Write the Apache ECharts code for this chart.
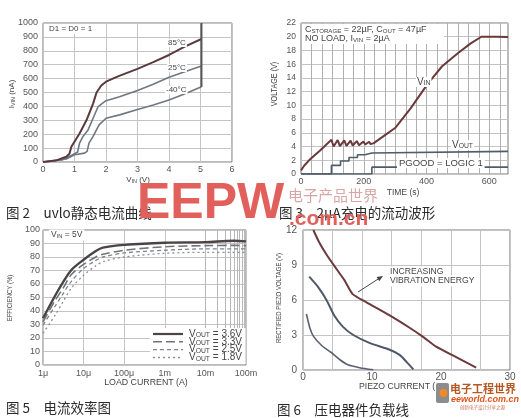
<!DOCTYPE html>
<html><head><meta charset="utf-8">
<script src="https://cdn.jsdelivr.net/npm/echarts@6/dist/echarts.min.js"></script>
<style>html,body{margin:0;padding:0;background:#fff}#c{width:521px;height:418px}</style>
</head><body><div id="c"></div>
<script>
// ---------- Fig 2 : UVLO quiescent current (V, nA) ----------
const uvlo85 = [[0,0],[0.4,10],[0.74,38],[0.84,60],[0.9,110],[1.16,205],[1.38,300],[1.59,420],[1.7,500],[1.85,550],[2.0,578],[2.4,618],[3.0,670],[3.5,718],[4.0,770],[4.5,830],[5.03,885]];
const uvlo25 = [[0,0],[0.63,17],[0.93,50],[1.1,72],[1.16,136],[1.27,184],[1.43,231],[1.59,315],[1.75,399],[2.0,441],[2.43,470],[3.0,515],[3.5,560],[4.0,610],[4.5,650],[5.03,690]];
const uvloM40 = [[0,0],[0.74,21],[1.0,52],[1.32,64],[1.4,76],[1.46,136],[1.59,184],[1.78,267],[2.0,315],[2.43,339],[3.0,378],[3.5,410],[4.0,446],[4.55,494],[5.03,542]];
const uvloEdge = [[5.03,540],[5.03,1000]];
// ---------- Fig 3 : 2uA charging waveform (s, V) ----------
const vin = [[0,0.5],[10,1.2],[30,2.2],[60,3.4],[97,5.0],[104,4.0],[117,4.95],[124,4.05],[138,4.9],[145,4.1],[158,4.85],[165,4.15],[178,4.8],[185,4.2],[199,4.75],[205,4.3],[217,4.7],[222,4.35],[232,4.5],[260,5.4],[300,6.7],[350,9.6],[405,13.2],[450,15.7],[500,17.6],[540,19.0],[575,20.0],[620,20.0],[660,19.95]];
const vout = [[0,0],[97,0],[97,1.25],[126,1.25],[126,1.9],[153,1.9],[153,2.4],[180,2.4],[180,2.8],[204,2.8],[204,3.05],[226,3.05],[226,3.3],[660,3.3]];
const pgood = [[0,0],[226,0],[226,1.0],[660,1.0]];
const timeTicks = [0,200,400,600];
// ---------- Fig 5 : efficiency (A, %) ----------
const effX  = [1e-6,2e-6,3e-6,5e-6,1e-5,2e-5,3e-5,1e-4,1e-3,1e-2,5e-2,1e-1];
const eff36 = [34.6,51.5,60.5,70.4,78,84.5,87,89,90.6,91,92,91.6];
const eff33 = [32,48,56,67,74.5,80,82,85,87.6,88.4,88.6,88.4];
const eff25 = [29.6,43.7,52,62,71.5,77.5,80,83,85,86,86,86];
const eff18 = [23.5,37,46,57,66.5,73.5,76.5,80,82.7,83.5,83.5,83.5];
const effTickLabels = ['1μ','10μ','100μ','1m','10m','100m'];
// ---------- Fig 6 : piezo load lines (uA, V) ----------
const piezoHigh = [[1.5,12],[2.3,11],[3.4,9.9],[4.8,8.7],[6.0,7.7],[7.2,6.5],[9.2,5.8],[12.5,4.7],[15.5,3.6],[17.5,2.8],[19.3,2.0],[22.2,1.1],[25.1,0.2]];
const piezoMid  = [[0.9,8.0],[2.2,7.1],[3.4,6.0],[4.6,4.6],[5.8,3.7],[7.3,3.0],[9.7,2.3],[12.3,1.8],[14.0,1.3],[15.0,0.7],[16.0,0.05]];
const piezoLow  = [[0.5,4.8],[1.0,3.6],[1.5,2.9],[2.7,2.1],[4.1,1.5],[5.3,0.9],[6.5,0.45],[8.2,0.2],[10.2,0.02]];

const FONT = '"Liberation Sans", Arial, sans-serif';
const CJK = '"Noto Sans CJK SC", sans-serif';
const GRIDC = '#c4c4c4', LABC = '#555', TXT = '#444';

function lab(size, margin, extra) {
  return Object.assign({color: LABC, fontSize: size, fontFamily: FONT, margin: margin}, extra || {});
}
function ax(o) {
  return Object.assign({type: 'value', axisLine: {show: false}, axisTick: {show: false},
    splitLine: {show: true, lineStyle: {color: GRIDC, width: 1}}}, o);
}
function line(name, data, xi, yi, color, width, extra) {
  return Object.assign({name, type: 'line', data, xAxisIndex: xi, yAxisIndex: yi, symbol: 'none',
    lineStyle: {color, width}, z: 5, silent: true}, extra || {});
}
function sub(size) {
  return {
    v: {fontSize: size, fontFamily: FONT, fill: TXT},
    s: {fontSize: size * 0.68, fontFamily: FONT, fill: TXT, verticalAlign: 'bottom'}
  };
}
function txt(x, y, text, o) {
  o = o || {};
  const st = {text, fill: o.color || TXT, fontSize: o.size || 9, fontFamily: o.family || FONT,
    fontWeight: o.weight || 'normal', fontStyle: o.style || 'normal',
    align: o.align || 'left', verticalAlign: o.va || 'middle'};
  if (o.rich) st.rich = o.rich;
  if (o.bg) { st.backgroundColor = o.bg; st.padding = o.pad || [1, 2]; }
  return {type: 'text', x, y, z: o.z || 100, rotation: o.rot || 0, scaleX: o.sx || 1, scaleY: o.sy || 1,
    style: st, opacity: o.opacity == null ? 1 : o.opacity, silent: true};
}
function seg(x1, y1, x2, y2, color, w, dash, z) {
  return {type: 'line', z: z || 110, silent: true, shape: {x1, y1, x2, y2},
    style: {stroke: color, lineWidth: w, lineDash: dash || null}};
}

// grid-line positions (not data): minor log lines for Fig 5, 1/6-division lines for Fig 3
const minorX = [];
for (let e = -6; e <= -2; e++) for (let k = 2; k <= 9; k++) minorX.push(k * Math.pow(10, e));
const timeGrid = [];
for (let k = 1; k < 20; k++) timeGrid.push(k * 100 / 3);

const rot = Math.PI / 2;
const option = {
  animation: false,
  backgroundColor: '#fff',
  grid: [
    {left: 43, top: 23, width: 189, height: 139},
    {left: 301, top: 23, width: 207, height: 151},
    {left: 43, top: 230, width: 203, height: 135},
    {left: 303, top: 230, width: 207, height: 140}
  ].map(g => Object.assign({show: true, borderColor: '#777', borderWidth: 1, backgroundColor: 'transparent', outerBoundsMode: 'none'}, g)),
  xAxis: [
    ax({gridIndex: 0, min: 0, max: 6, interval: 1, axisLabel: lab(9, 3)}),
    ax({gridIndex: 1, min: 0, max: 660, interval: 200, splitLine: {show: false},
        axisLabel: lab(9, 3, {formatter: v => timeTicks.indexOf(Math.round(v)) >= 0 ? String(Math.round(v)) : ''})}),
    ax({gridIndex: 2, type: 'log', logBase: 10, min: 1e-6, max: 0.1, interval: 1,
        axisLabel: lab(9, 4, {formatter: v => effTickLabels[Math.round(Math.log10(v)) + 6] || ''})}),
    ax({gridIndex: 3, min: 0, max: 30, interval: 10, splitLine: {show: false}, axisLabel: lab(10, 2)}),
    ax({gridIndex: 3, min: 0, max: 30, interval: 30 / 7, position: 'top', axisLabel: {show: false}})
  ],
  yAxis: [
    ax({gridIndex: 0, min: 0, max: 1000, interval: 100, axisLabel: lab(9, 5, {formatter: v => String(v)})}),
    ax({gridIndex: 1, min: 0, max: 22, interval: 2, axisLabel: lab(8.5, 5)}),
    ax({gridIndex: 2, min: 0, max: 100, interval: 10, axisLabel: lab(9, 3)}),
    ax({gridIndex: 3, min: 0, max: 12, interval: 3, axisLabel: lab(10, 6)})
  ],
  series: [
    line('m40', uvloM40, 0, 0, '#6f7882', 1.6),
    line('25', uvlo25, 0, 0, '#6f7882', 1.6),
    line('85', uvlo85, 0, 0, '#5a3a3c', 2),
    line('edge', uvloEdge, 0, 0, '#555', 2),
    {name: 'tgrid', type: 'custom', xAxisIndex: 1, yAxisIndex: 1, z: 3, silent: true, clip: false,
     data: timeGrid.map(t => [t, 0]),
     renderItem: function (params, api) {
       const p0 = api.coord([api.value(0), 0]);
       const p1 = api.coord([api.value(0), 22]);
       const x = Math.round(p0[0]) + 0.5;
       return {type: 'line', shape: {x1: x, y1: p1[1], x2: x, y2: p0[1]}, style: {stroke: '#b0b0b0', lineWidth: 1}};
     }},
    line('PGOOD', pgood, 1, 1, '#4f5c6c', 1.6),
    line('VOUT', vout, 1, 1, '#4f5c6c', 1.6),
    line('VIN', vin, 1, 1, '#6a393a', 2),
    {name: 'minor', type: 'line', data: [], xAxisIndex: 2, yAxisIndex: 2, z: 2, silent: true,
     markLine: {silent: true, symbol: ['none', 'none'], label: {show: false}, animation: false,
       lineStyle: {color: '#b8b8b8', width: 1, type: 'solid'}, emphasis: {disabled: true},
       data: minorX.map(v => ({xAxis: v}))}},
    line('1.8', effX.map((x, i) => [x, eff18[i]]), 2, 2, '#8a8f96', 1.3, {smooth: 0.3, lineStyle: {color: '#8a8f96', width: 1.3, type: [2, 3]}}),
    line('2.5', effX.map((x, i) => [x, eff25[i]]), 2, 2, '#80858c', 1.3, {smooth: 0.3, lineStyle: {color: '#80858c', width: 1.3, type: [4, 3]}}),
    line('3.3', effX.map((x, i) => [x, eff33[i]]), 2, 2, '#6f747a', 1.6, {smooth: 0.3, lineStyle: {color: '#6f747a', width: 1.6, type: [9, 4]}}),
    line('3.6', effX.map((x, i) => [x, eff36[i]]), 2, 2, '#4a4444', 2.4, {smooth: 0.3}),
    line('low', piezoLow, 3, 3, '#5a6272', 1.6, {smooth: 0.25}),
    line('mid', piezoMid, 3, 3, '#4f5868', 2, {smooth: 0.25}),
    line('high', piezoHigh, 3, 3, '#6a3a3c', 2, {smooth: 0.2})
  ],
  graphic: [
    // ---- Fig 2 annotations
    txt(47, 29, 'D1 = D0 = 1', {size: 8, bg: '#fff', pad: [1, 2]}),
    txt(167, 43, '85°C', {size: 8, bg: '#fff', pad: [0, 1]}),
    txt(167, 68, '25°C', {size: 8, bg: '#fff', pad: [0, 1]}),
    txt(165, 90, '-40°C', {size: 8, bg: '#fff', pad: [0, 1]}),
    txt(138, 180, '{v|V}{s|IN}{v| (V)}', {rich: sub(8), align: 'center'}),
    txt(12, 94, '{v|I}{s|VIN}{v| (nA)}', {rich: sub(8), align: 'center', rot: rot}),
    // ---- Fig 3 annotations
    {type: 'rect', z: 99, silent: true, shape: {x: 302, y: 24, width: 142, height: 20}, style: {fill: '#fff'}},
    txt(305, 29.5, '{v|C}{s|STORAGE}{v| = 22µF, C}{s|OUT}{v| = 47µF}', {rich: sub(9)}),
    txt(305, 38.5, '{v|NO LOAD, I}{s|VIN}{v| = 2µA}', {rich: sub(9)}),
    txt(416, 82, '{v|V}{s|IN}', {rich: sub(10), bg: '#fff', pad: [0, 1]}),
    txt(451, 145, '{v|V}{s|OUT}', {rich: sub(10), bg: '#fff', pad: [0, 1]}),
    txt(397, 163, 'PGOOD = LOGIC 1', {size: 9.5, bg: '#fff', pad: [0, 2]}),
    txt(275, 84, 'VOLTAGE (V)', {size: 9, align: 'center', rot: rot, sx: 0.8}),
    txt(403, 193, 'TIME (s)', {size: 8.5, align: 'center'}),
    // ---- Fig 5 annotations
    txt(49, 235, '{v|V}{s|IN}{v| = 5V}', {rich: sub(8.5), bg: '#fff', pad: [1, 2]}),
    {type: 'rect', z: 99, silent: true, shape: {x: 150, y: 328, width: 95.5, height: 36}, style: {fill: '#fff'}},
    seg(153, 334, 183, 334, '#4a4444', 2.2),
    seg(153, 341.8, 183, 341.8, '#6f747a', 1.6, [9, 4]),
    seg(153, 349.7, 183, 349.7, '#80858c', 1.3, [4, 3]),
    seg(153, 357.5, 183, 357.5, '#8a8f96', 1.3, [2, 3]),
    txt(189, 334, '{v|V}{s|OUT}{v| = 3.6V}', {rich: sub(10)}),
    txt(189, 341.8, '{v|V}{s|OUT}{v| = 3.3V}', {rich: sub(10)}),
    txt(189, 349.7, '{v|V}{s|OUT}{v| = 2.5V}', {rich: sub(10)}),
    txt(189, 357.5, '{v|V}{s|OUT}{v| = 1.8V}', {rich: sub(10)}),
    txt(146, 383, 'LOAD CURRENT (A)', {size: 8.8, align: 'center'}),
    txt(10, 298, 'EFFICIENCY (%)', {size: 8, align: 'center', rot: rot, sx: 0.75}),
    // ---- Fig 6 annotations
    txt(389, 272, 'INCREASING', {size: 8.6, bg: '#fff', pad: [1, 1]}),
    txt(389, 281, 'VIBRATION ENERGY', {size: 8.6, bg: '#fff', pad: [1, 1]}),
    seg(358, 292, 380, 277.8, '#444', 1),
    {type: 'polygon', z: 110, silent: true, shape: {points: [[383, 276], [379.3, 281.3], [376.6, 277.1]]}, style: {fill: '#444'}},
    txt(279, 298, 'RECTIFIED PIEZO VOLTAGE (V)', {size: 8, align: 'center', rot: rot, sx: 0.75}),
    txt(359, 387, 'PIEZO CURRENT (μA)', {size: 8.7}),
    // ---- captions
    txt(6, 213, '图 2　uvlo静态电流曲线', {size: 13.5, family: CJK, color: '#2a2a2a'}),
    txt(279, 213, '图 3　2μA充电的流动波形', {size: 13.5, family: CJK, color: '#2a2a2a'}),
    txt(6, 408, '图 5　电流效率图', {size: 13.5, family: CJK, color: '#2a2a2a'}),
    txt(277, 410, '图 6　压电器件负载线', {size: 13.5, family: CJK, color: '#2a2a2a'}),
    // ---- watermark
    txt(137, 204, 'EEPW', {size: 50, weight: 'bold', color: '#e2605b', opacity: 0.85, z: 150}),
    txt(288, 195, '电子产品世界', {size: 15, family: CJK, color: '#d9a6a6', opacity: 0.8, z: 150}),
    txt(289, 219, '.com.cn', {size: 21, weight: 'bold', color: '#e2605b', opacity: 0.85, z: 150}),
    // ---- eeworld logo
    {type: 'rect', z: 200, silent: true, shape: {x: 435, y: 380, width: 86, height: 38}, style: {fill: '#fff'}},
    {type: 'rect', z: 201, silent: true, shape: {x: 436, y: 383, width: 13, height: 20, r: 2}, style: {fill: '#8c8c8c'}},
    {type: 'circle', z: 202, silent: true, shape: {cx: 443.5, cy: 393, r: 4}, style: {fill: '#f08a24'}},
    txt(450, 389, '电子工程世界', {size: 11, family: CJK, weight: 'bold', color: '#b35a24', z: 202}),
    txt(451, 399.5, 'eeworld.com.cn', {size: 9, weight: 'bold', style: 'italic', color: '#e0531c', z: 202}),
    txt(460, 407.5, '创新电子设计分享之源', {size: 4.5, family: CJK, color: '#d07050', z: 202})
  ]
};
const chart = echarts.init(document.getElementById('c'), null, {renderer: 'canvas'});
chart.setOption(option);
</script></body></html>
